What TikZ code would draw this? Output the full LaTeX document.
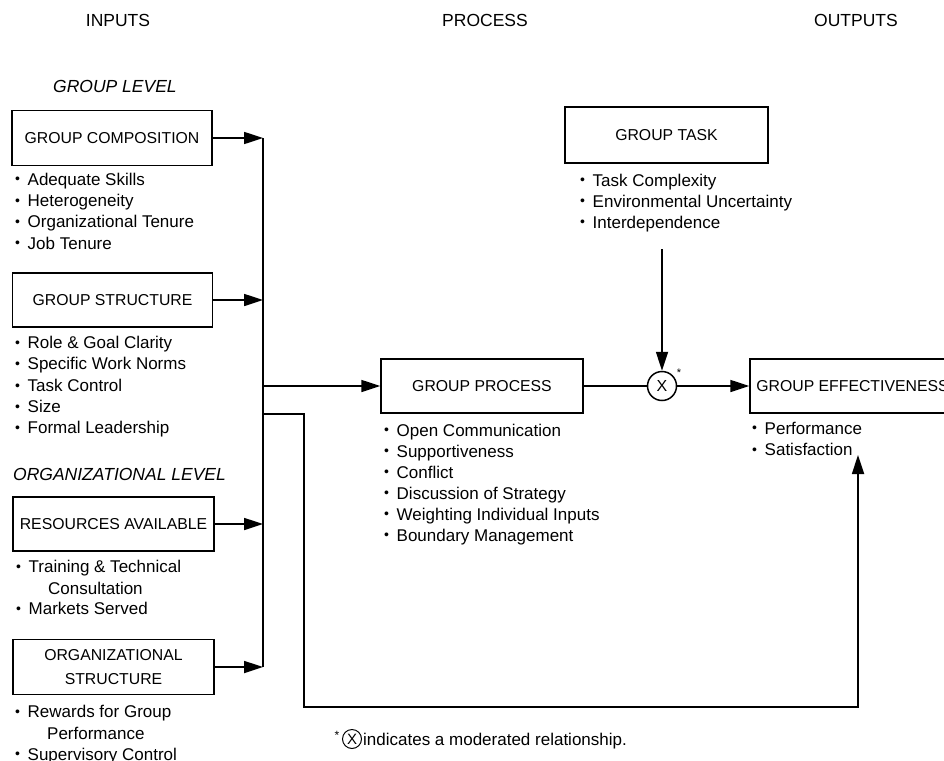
\documentclass[tikz,border=0pt]{standalone}
\usepackage{fontspec}
\setmainfont{Liberation Sans}
\usetikzlibrary{arrows.meta}
\newcommand{\bl}{\makebox[12.5pt][l]{\fontsize{14}{14}\selectfont\raisebox{1.2pt}{•}}}
\begin{document}
\begin{tikzpicture}[x=1pt,y=-1pt,
  box/.style={draw, line width=1.5pt, inner sep=0pt, font=\fontsize{15.8}{23.3}\selectfont, align=center},
  txt/.style={inner sep=0pt, anchor=west, text height=12.2pt, text depth=0pt, font=\fontsize{17}{21}\selectfont},
  hdr/.style={inner sep=0pt, text height=12.5pt, text depth=0pt, font=\fontsize{17.5}{21}\selectfont},
  lvl/.style={inner sep=0pt, anchor=west, text height=12.5pt, text depth=0pt, font=\fontsize{17.5}{21}\selectfont\itshape},
  ln/.style={line width=1.7pt},
  arr/.style={line width=1.7pt, -{Triangle[length=19pt,width=12pt]}},
]
\useasboundingbox (0,0) rectangle (944,760);
\clip (0,0) rectangle (944,760);

% headers
\node[hdr] (hin) at (118,20) {INPUTS};
\node[hdr] (hpr) at (485,20) {PROCESS};
\node[hdr] (hout) at (856,20) {OUTPUTS};
\node[lvl] (lgl) at (53,86) {GROUP LEVEL};
\node[lvl] (lol) at (13,474.5) {ORGANIZATIONAL LEVEL};

% boxes
\node[box, minimum width=200, minimum height=55] (gc) at (112,138) {GROUP COMPOSITION};
\node[box, minimum width=200, minimum height=54] (gs) at (112.5,300) {GROUP STRUCTURE};
\node[box, minimum width=201, minimum height=54] (ra) at (113.5,524) {RESOURCES AVAILABLE};
\node[box, minimum width=201, minimum height=55] (os) at (113.5,667) {ORGANIZATIONAL\\STRUCTURE};
\node[box, minimum width=202, minimum height=54] (gp) at (482,386) {GROUP PROCESS};
\node[box, minimum width=203, minimum height=56] (gt) at (666.5,135) {GROUP TASK};
\node[box, minimum width=205, minimum height=54] (ge) at (852.5,386) {GROUP EFFECTIVENESS};
\node[draw, circle, line width=1.5pt, minimum size=29, inner sep=0pt, font=\fontsize{16}{16}\selectfont] (mx) at (662,386) {X};
\node[inner sep=0pt, font=\fontsize{11}{11}\selectfont] (ast) at (679,373) {*};

% lists
\foreach \t [count=\i] in {Adequate Skills, Heterogeneity, Organizational Tenure, Job Tenure}
  \node[txt] (gc\i) at (15,{179+21.3*(\i-1)}) {\bl\t};
\foreach \t [count=\i] in {Role \& Goal Clarity, Specific Work Norms, Task Control, Size, Formal Leadership}
  \node[txt] (gs\i) at (15,{342.5+21.3*(\i-1)}) {\bl\t};
\node[txt] (ra1) at (16,566.7) {\bl Training \& Technical};
\node[txt] (ra2) at (48,588) {Consultation};
\node[txt] (ra3) at (16,608.5) {\bl Markets Served};
\node[txt] (os1) at (15,711.7) {\bl Rewards for Group};
\node[txt] (os2) at (47,733) {Performance};
\node[txt] (os3) at (15,754) {\bl Supervisory Control};
\foreach \t [count=\i] in {Open Communication, Supportiveness, Conflict, Discussion of Strategy, Weighting Individual Inputs, Boundary Management}
  \node[txt] (gp\i) at (384,{430+21*(\i-1)}) {\bl\t};
\foreach \t [count=\i] in {Task Complexity, Environmental Uncertainty, Interdependence}
  \node[txt] (gt\i) at (580,{180+21*(\i-1)}) {\bl\t};
\node[txt] (ge1) at (752,428) {\bl Performance};
\node[txt] (ge2) at (752,449.5) {\bl Satisfaction};

% footnote
\node[inner sep=0pt, font=\fontsize{12}{12}\selectfont] (fa) at (337,735) {*};
\node[draw, circle, line width=1pt, minimum size=19, inner sep=0pt, font=\fontsize{15}{15}\selectfont] (fx) at (352,739) {X};
\node[txt] (ft) at (363,739) {indicates a moderated relationship.};

% connectors
\coordinate (v) at (263,0);
\coordinate (br) at (304,414);
\coordinate (bot) at (304,707);
\coordinate (se) at (858,455);
\coordinate (gtl) at (662,249);

\draw[arr] (gc.east) -- (gc.east -| v);
\draw[arr] (gs.east) -- (gs.east -| v);
\draw[arr] (ra.east) -- (ra.east -| v);
\draw[arr] (os.east) -- (os.east -| v);
\draw[ln] (gc.east -| v) -- (os.east -| v);
\draw[arr] (v |- gp.west) -- (gp.west);
\draw[arr] (v |- br) -- (br) -- (bot) -- (bot -| se) -- (se);
\draw[ln] (gp.east) -- (mx.west);
\draw[arr] (mx.east) -- (ge.west);
\draw[arr] (gtl) -- (mx.north);
\end{tikzpicture}
\end{document}
